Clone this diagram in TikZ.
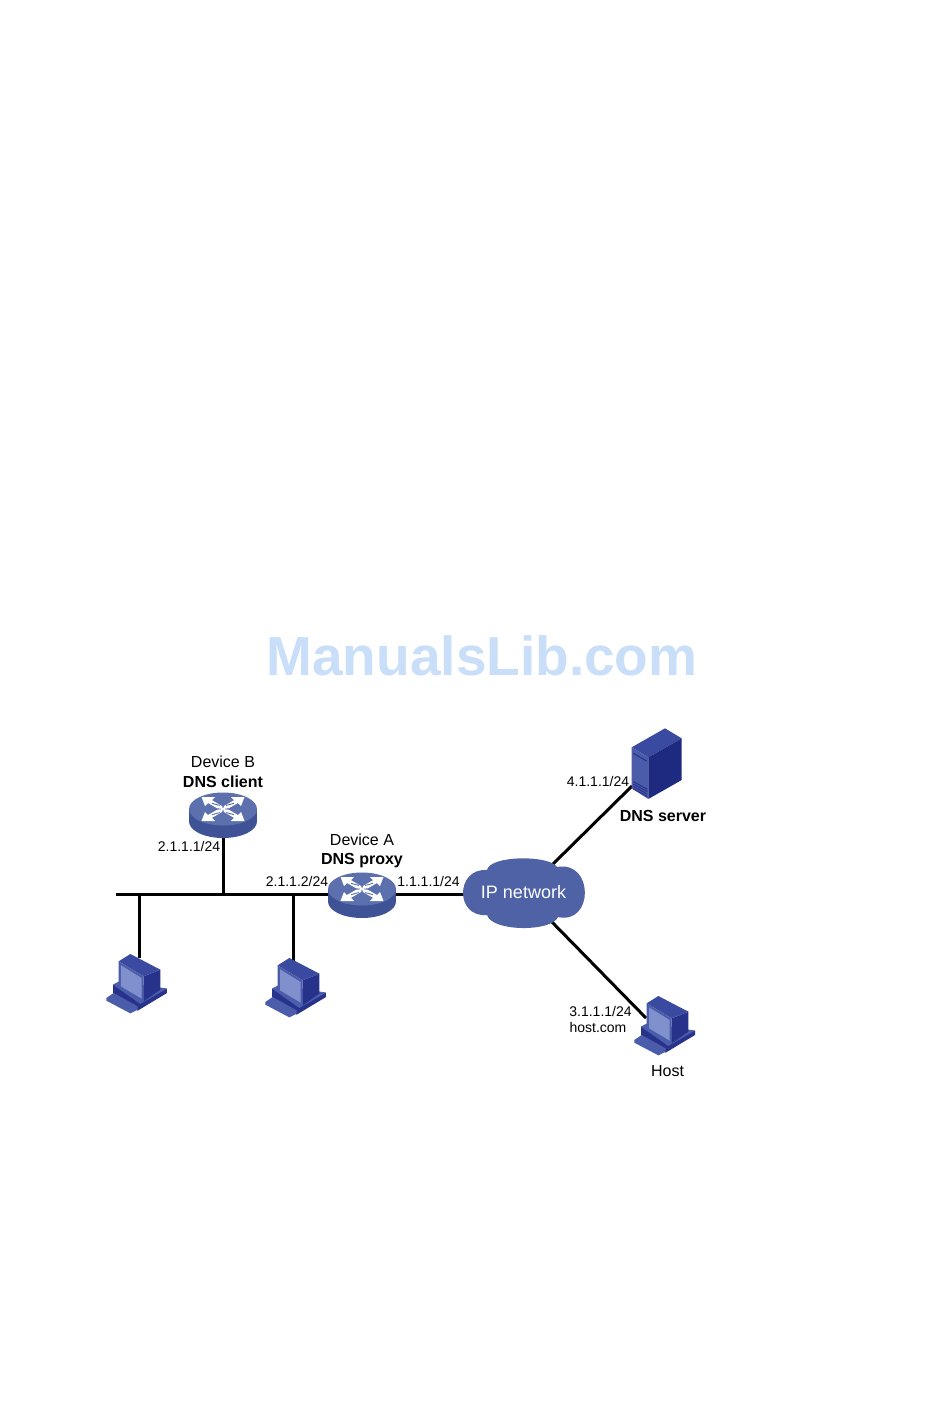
\documentclass[tikz,border=0pt]{standalone}
\usepackage{fontspec}
\setmainfont{Liberation Sans}
\definecolor{cloudblue}{HTML}{4F62A6}
\definecolor{rtop}{HTML}{5C70AE}
\definecolor{rside}{HTML}{3F5296}
\definecolor{pclight}{HTML}{4A5CAA}
\definecolor{pcmid}{HTML}{3A4AA0}
\definecolor{pcdark}{HTML}{27328A}
\definecolor{srvdark}{HTML}{1E2A7F}
\definecolor{pcscreen}{HTML}{8090CC}
\definecolor{mark}{HTML}{C9DEF8}
\tikzset{
  x=1pt,y=-1pt,
  link/.style={line width=3pt,black},
  ip/.style={font=\fontsize{14}{16}\selectfont,inner sep=0pt,align=left},
  lab/.style={font=\fontsize{16}{19}\selectfont,inner sep=0pt,anchor=base},
  blab/.style={font=\fontsize{16}{19}\selectfont\bfseries,inner sep=0pt,anchor=base},
  routerdev/.pic={
    \fill[rside] (-34,0) rectangle (34,12.5);
    \fill[rside] (0,12.5) ellipse[x radius=34,y radius=16.5];
    \fill[rtop] (0,0) ellipse[x radius=34,y radius=16.5];
    \foreach \s/\t in {1/1,1/-1,-1/1,-1/-1}{
      \fill[white,xscale=\s,yscale=\t]
        (21.5,12) -- (8,12) -- (11,8.8) -- (1,3) -- (0,0) -- (6,0.8) -- (15,6) -- (18,3) -- cycle;
      \draw[rtop,line width=0.9pt,xscale=\s,yscale=\t] (3,3.6) .. controls (6,3.4) and (8,5.6) .. (11,5.8);
    }
  },
  pcdev/.pic={
    \begin{scope}[x=0.3333pt,y=-0.3333pt]
      \fill[pcdark] (48,110) -- (210,122) -- (210,135) -- (122,188) -- (48,135) -- cycle;
      \fill[pclight] (48,110) -- (70,98) -- (210,122) -- (130,168) -- cycle;
      \fill[pclight] (28,150) -- (50,135) -- (122,175) -- (122,185) -- (100,196) -- (28,158) -- cycle;
      \fill[pcdark] (140,85) -- (190,65) -- (190,125) -- (140,160) -- cycle;
      \fill[pcmid] (65,40) -- (100,18) -- (190,65) -- (140,85) -- cycle;
      \fill[pclight] (65,40) -- (140,85) -- (140,160) -- (65,118) -- cycle;
      \fill[pcscreen] (72,52) -- (134,90) -- (134,152) -- (72,115) -- cycle;
    \end{scope}
  },
  serverdev/.pic={
    \begin{scope}[x=0.3333pt,y=-0.3333pt]
      \fill[pcmid] (35,82) -- (135,25) -- (185,55) -- (85,112) -- cycle;
      \fill[pclight] (35,82) -- (85,112) -- (85,237) -- (35,205) -- cycle;
      \fill[srvdark] (85,112) -- (185,55) -- (185,180) -- (85,237) -- cycle;
      \draw[pcdark,line width=1pt] (40,100) -- (80,123);
      \foreach \d in {0,8,16,24}
        \draw[pcdark,line width=1pt] (40,{185+\d*0.9}) -- (82,{208+\d*0.9});
    \end{scope}
  }
}
\begin{document}
\begin{tikzpicture}
\useasboundingbox (0,0) rectangle (950,1420);
\fill[white] (0,0) rectangle (950,1420);
% anchors
\coordinate (busL) at (116,894);
\coordinate (jB) at (223,894);
\coordinate (j1) at (139,894);
\coordinate (j2) at (293,894);
\coordinate (routerB) at (223,809);
\coordinate (routerA) at (362,889);
\coordinate (pc1top) at (139,958);
\coordinate (pc2top) at (293,963);
\coordinate (cloud) at (523,892);
\coordinate (cloudU) at (525,891.6);
\coordinate (cloudD) at (525,894.5);
\coordinate (srv) at (632,786);
\coordinate (hst) at (646,1018);
% connectors
\draw[link] (busL) -- (routerA |- busL);
\draw[link] (routerB) -- (jB);
\draw[link] (j1) -- (pc1top);
\draw[link] (j2) -- (pc2top);
\draw[link] (routerA |- busL) -- (cloud |- busL);
\draw[link] (cloudU) -- (srv);
\draw[link] (cloudD) -- (hst);
% devices
\pic at (routerB) {routerdev};
\pic at (routerA) {routerdev};
\pic at (97,948) {pcdev};
\pic at (256,952) {pcdev};
\pic at (625,990) {pcdev};
\pic at (620,720) {serverdev};
% cloud
\fill[cloudblue] (487,870)
  .. controls (490,855) and (550,855) .. (557,867)
  .. controls (594,860) and (594,925) .. (558,917)
  .. controls (552,932) and (492,932) .. (487,915)
  .. controls (455,918) and (455,868) .. (487,870) -- cycle;
\node[text=white,font=\fontsize{18}{20}\selectfont,inner sep=0pt] (cloudtext) at (523.5,892) {IP network};
% labels
\node[lab] (devb) at (223,767.7) {Device B};
\node[blab] (dnsc) at (223,787) {DNS client};
\node[lab] (deva) at (362,845.7) {Device A};
\node[blab] (dnsp) at (362,864) {DNS proxy};
\node[blab] (dnss) at (663,821) {DNS server};
\node[lab] (hostl) at (667.5,1076.7) {Host};
\node[ip] (ip1) at (189,846.5) {2.1.1.1/24};
\node[ip] (ip2) at (297,881.5) {2.1.1.2/24};
\node[ip] (ip3) at (428.5,881.5) {1.1.1.1/24};
\node[ip] (ip4) at (598,781) {4.1.1.1/24};
\node[ip] (ip5) at (600.5,1011) {3.1.1.1/24};
\node[ip] (ip6) at (598,1027) {host.com};
\node[font=\fontsize{55}{60}\selectfont\bfseries,text=mark,inner sep=0pt] (wm) at (482,656) {ManualsLib.com};
\end{tikzpicture}
\end{document}
